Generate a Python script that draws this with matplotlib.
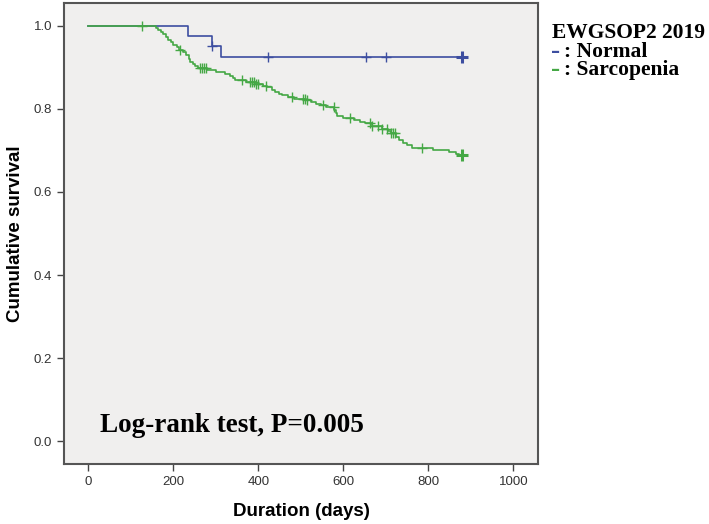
import matplotlib
matplotlib.use("Agg")
import matplotlib.pyplot as plt
import numpy as np

# Kaplan-Meier data
normal_t = [0, 234, 292, 312, 880]
normal_s = [1.0, 0.976, 0.951, 0.925, 0.925]
normal_cens = [292, 422, 653, 700, 880]

sarco_t = [0, 159, 165, 170, 176, 182, 188, 194, 200, 208, 214, 222, 230, 236, 240,
           246, 251, 258, 280, 300, 322, 334, 340, 345, 372, 395, 410, 420, 432, 440,
           448, 455, 470, 485, 512, 525, 535, 548, 560, 578, 582, 586, 600, 625, 640,
           650, 668, 690, 705, 712, 725, 732, 740, 750, 762, 812, 848, 866, 872, 880]
sarco_s = [1.0, 0.995, 0.990, 0.985, 0.980, 0.972, 0.965, 0.960, 0.954, 0.948, 0.942,
           0.936, 0.930, 0.920, 0.913, 0.908, 0.903, 0.898, 0.893, 0.889, 0.885, 0.880,
           0.874, 0.869, 0.865, 0.860, 0.856, 0.852, 0.846, 0.841, 0.837, 0.833, 0.829,
           0.825, 0.821, 0.817, 0.813, 0.809, 0.805, 0.797, 0.790, 0.782, 0.778, 0.774,
           0.769, 0.765, 0.759, 0.752, 0.746, 0.741, 0.733, 0.726, 0.718, 0.712, 0.707,
           0.702, 0.697, 0.691, 0.689, 0.689]
sarco_cens = [126, 216, 263, 268, 272, 276, 361, 380, 385, 390, 395, 400, 417, 479, 505,
              510, 514, 553, 577, 616, 663, 668, 682, 690, 702, 712, 718, 722, 784, 880]

blue = "#3d4ea0"
green = "#45a845"


def surv_at(times, surv, t):
    i = np.searchsorted(times, t, side="right") - 1
    return surv[i]


fig = plt.figure(figsize=(7.09, 5.24), dpi=100)
ax = fig.add_axes([64 / 709, 1 - 464 / 524, (538 - 64) / 709, (464 - 3) / 524])
ax.set_facecolor("#f0efee")

for t, s, c, col in [(normal_t, normal_s, normal_cens, blue), (sarco_t, sarco_s, sarco_cens, green)]:
    ax.step(t, s, where="post", color=col, lw=1.2)
    cy = [surv_at(np.array(t), np.array(s), x) for x in c]
    ax.plot(c[:-1], cy[:-1], "+", color=col, ms=7, mew=1.0)
    ax.plot(c[-1:], cy[-1:], "+", color=col, ms=8, mew=2.2)

ax.set_xlim(-57, 1058)
ax.set_ylim(-0.055, 1.055)
ax.set_xticks([0, 200, 400, 600, 800, 1000])
ax.set_yticks([0.0, 0.2, 0.4, 0.6, 0.8, 1.0])
ax.set_yticklabels(["0.0", "0.2", "0.4", "0.6", "0.8", "1.0"])
ax.tick_params(direction="out", length=5, width=1, color="#444",
               labelsize=9.5, labelcolor="#333")
for sp in ax.spines.values():
    sp.set_color("#555")
    sp.set_linewidth(1.5)

ax.set_xlabel("Duration (days)", fontsize=13.5, fontweight="bold",
              family="Liberation Sans", labelpad=11)
ax.set_ylabel("Cumulative survival", fontsize=13.5, fontweight="bold",
              family="Liberation Sans", labelpad=7)
for lab in ax.get_xticklabels() + ax.get_yticklabels():
    lab.set_family("Liberation Sans")

ax.text(27, 0.022, "Log-rank test, P=0.005", fontsize=19.5, fontweight="bold",
        family="Liberation Serif", va="baseline", ha="left")

# legend on the right
serif = dict(fontsize=15.5, fontweight="bold", family="Liberation Serif", va="center")
dash = dict(fontsize=13, fontweight="bold", family="DejaVu Serif", va="center")
fig.text(552 / 709, 1 - 33 / 524, "EWGSOP2 2019", **serif)
fig.text(551 / 709, 1 - 51.7 / 524, "\u2013", color=blue, **dash)
fig.text(564 / 709, 1 - 51.7 / 524, ": Normal", **serif)
fig.text(551 / 709, 1 - 70.4 / 524, "\u2013", color=green, **dash)
fig.text(564 / 709, 1 - 70.4 / 524, ": Sarcopenia", **serif)

fig.savefig("out.png", dpi=100)
